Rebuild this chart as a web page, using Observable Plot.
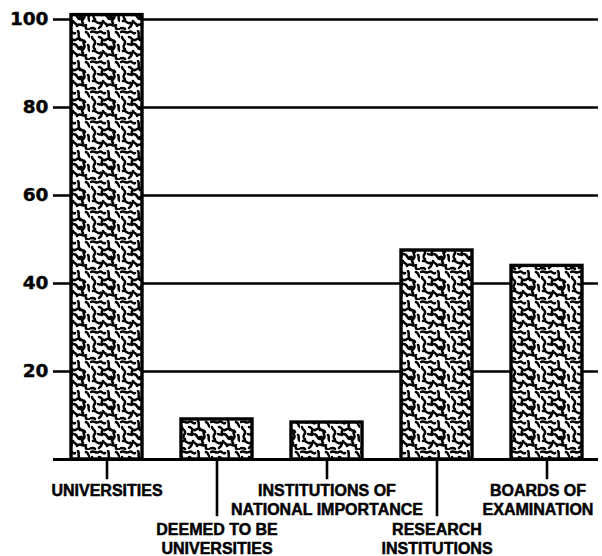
<!DOCTYPE html>
<html>
<head>
<meta charset="utf-8">
<script src="https://cdn.jsdelivr.net/npm/d3@7"></script>
<script src="https://cdn.jsdelivr.net/npm/@observablehq/plot@0.6"></script>
<style>
  html, body { margin: 0; padding: 0; background: #fff; }
  #chart svg { display: block; }
</style>
</head>
<body>
<div id="chart"></div>
<script>
// ---- data ----
const categories = ["UNIVERSITIES", "DEEMED TO BE UNIVERSITIES", "INSTITUTIONS OF NATIONAL IMPORTANCE", "RESEARCH INSTITUTIONS", "BOARDS OF EXAMINATION"];
const labels = ["UNIVERSITIES", "DEEMED TO BE\nUNIVERSITIES", "INSTITUTIONS OF\nNATIONAL IMPORTANCE", "RESEARCH\nINSTITUTIONS", "BOARDS OF\nEXAMINATION"];
const values = [101, 9.1, 8.4, 47.5, 44];
const yTicks = [20, 40, 60, 80, 100];

const rows = categories.map((c, i) => ({cat: c, label: labels[i], value: values[i], level: i % 2, last: i === categories.length - 1}));

const font = "'Liberation Sans', Arial, sans-serif";
const tickFont = "'DejaVu Sans', Verdana, sans-serif";
const labelStyle = {x: "cat", y: 0, text: "label", lineAnchor: "top", fontSize: 16, fontWeight: "bold", fontFamily: font,
  fill: "black", stroke: "black", strokeWidth: 0.5, lineHeight: 1.18};

const plot = Plot.plot({
  width: 602,
  height: 556,
  marginLeft: 53,
  marginRight: 4,
  marginTop: 0,
  marginBottom: 0,
  style: {background: "white", color: "black"},
  x: {domain: categories, range: [70, 582], paddingInner: 0.357, paddingOuter: 0, axis: null},
  y: {domain: [0, 100], range: [459, 19], axis: null},
  marks: [
    Plot.ruleY(yTicks, {stroke: "black", strokeWidth: 2.6}),
    Plot.ruleY([0], {stroke: "black", strokeWidth: 3}),
    Plot.text(yTicks, {y: d => d, frameAnchor: "left", textAnchor: "end", dx: -5, text: d => String(d),
      fontSize: 18.5, fontWeight: "bold", fontFamily: tickFont, fill: "black", stroke: "black", strokeWidth: 0.4}),
    Plot.barY(rows, {x: "cat", y: "value", fill: "url(#worm)", stroke: "black", strokeWidth: 3.4}),
    Plot.ruleX(rows, {x: "cat", y1: 0, y2: d => d.level ? -13 : -4.6, stroke: "black", strokeWidth: 2.6}),
    Plot.text(rows, {...labelStyle, filter: d => d.level === 0 && !d.last, dy: 23}),
    Plot.text(rows, {...labelStyle, filter: d => d.level === 1, dy: 62}),
    Plot.text(rows, {...labelStyle, filter: d => d.last, dy: 23, dx: -9})
  ]
});

// worm-like texture for the bars
const defs = d3.select(plot).insert("defs", ":first-child");
const pat = defs.append("pattern")
  .attr("id", "worm").attr("patternUnits", "userSpaceOnUse")
  .attr("width", 30).attr("height", 30);
pat.append("rect").attr("width", 30).attr("height", 30).attr("fill", "white");
pat.append("path")
  .attr("d", [
    "M1 2 c3 -2 5 2 8 0 s4 3 6 1",
    "M18 1 c2 3 -1 5 2 8 s4 0 5 3",
    "M26 2 c3 1 2 4 4 5",
    "M2 7 c0 3 4 3 3 6 s-3 4 0 6",
    "M9 7 c3 0 3 4 6 3 s3 -3 5 0",
    "M24 11 c-2 3 2 4 0 7 s-3 3 -1 5",
    "M8 14 c3 2 5 -2 8 1 s1 4 4 4",
    "M28 15 c2 2 -1 4 2 6",
    "M3 21 c3 -1 4 3 7 2 s2 3 -1 5",
    "M13 21 c1 3 4 2 4 5",
    "M18 25 c3 -2 5 2 8 0",
    "M26 27 c-1 2 2 3 4 2",
    "M0 28 c2 1 3 -1 5 1",
    "M12 11 c-1 2 1 3 0 4",
    "M20 17 c2 -1 3 1 2 3"
  ].join(" "))
  .attr("fill", "none").attr("stroke", "black").attr("stroke-width", 2.5)
  .attr("stroke-linecap", "round");

document.getElementById("chart").appendChild(plot);
</script>
</body>
</html>
